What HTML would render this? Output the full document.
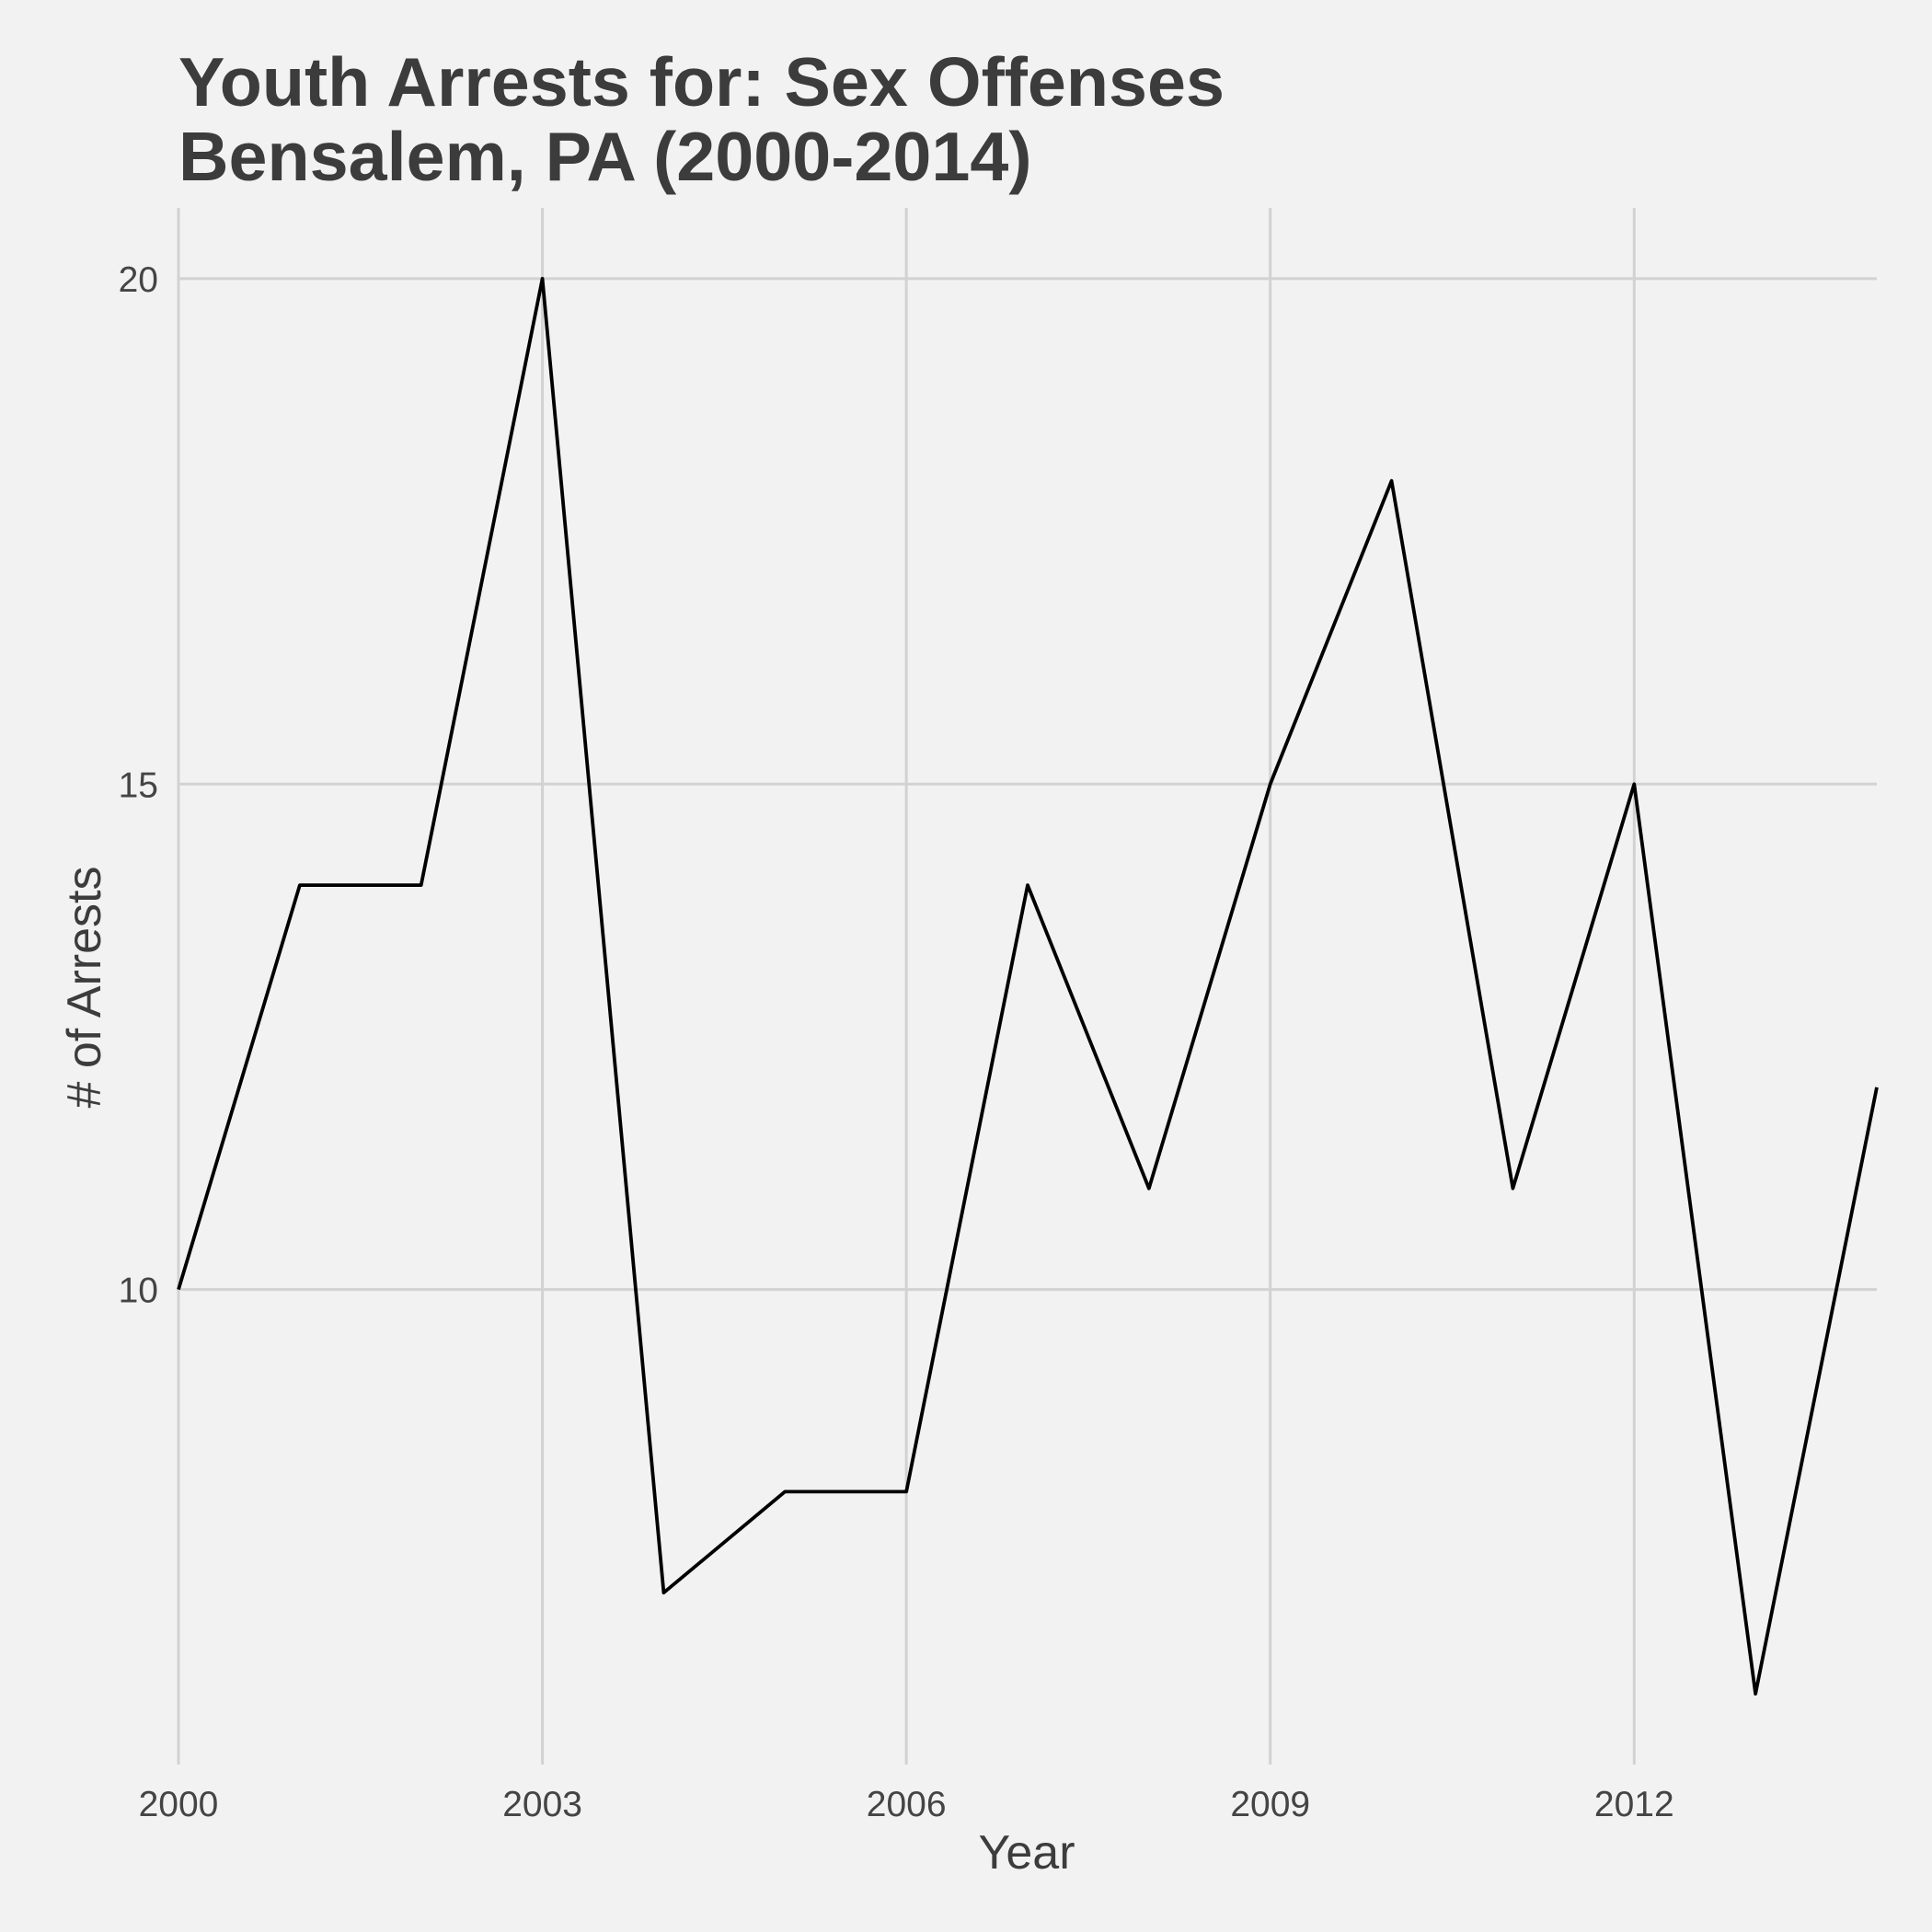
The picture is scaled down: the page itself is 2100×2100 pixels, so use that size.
<!DOCTYPE html>
<html><head><meta charset="utf-8"><style>
html,body{margin:0;padding:0;background:#f2f2f2;}
svg{display:block;font-family:"Liberation Sans",Arial,sans-serif;}
</style></head><body>
<svg id="chart" width="2100" height="2100" viewBox="0 0 2100 2100">
<rect width="2100" height="2100" fill="#f2f2f2"/>
<g id="grid"></g>
<g id="series"></g>
<g id="labels"></g>
<text x="194" y="115" font-size="75.5" font-weight="bold" fill="#3c3c3c">Youth Arrests for: Sex Offenses</text>
<text x="194" y="196" font-size="75.5" font-weight="bold" fill="#3c3c3c">Bensalem, PA (2000-2014)</text>
<text x="1116" y="2031" font-size="52" fill="#3c3c3c" text-anchor="middle">Year</text>
<text transform="translate(109,1073) rotate(-90)" font-size="52" fill="#3c3c3c" text-anchor="middle"># of Arrests</text>
</svg>
<script>
const years = [2000,2001,2002,2003,2004,2005,2006,2007,2008,2009,2010,2011,2012,2013,2014];
const arrests = [10,14,14,20,7,8,8,14,11,15,18,11,15,6,12];
const xTicks = [2000,2003,2006,2009,2012];
const yTicks = [10,15,20];

const NS = "http://www.w3.org/2000/svg";
const x0 = 194, x1 = 2040, yTop = 226, yBot = 1918;
const xMin = 2000, xMax = 2014, yMin = 5.3, yMax = 20.7;
function xs(v){ return x0 + (v - xMin) / (xMax - xMin) * (x1 - x0); }
function ys(v){ return yBot - (v - yMin) / (yMax - yMin) * (yBot - yTop); }

const grid = document.getElementById('grid');
const labels = document.getElementById('labels');
xTicks.forEach(t => {
  const l = document.createElementNS(NS, 'line');
  l.setAttribute('x1', xs(t)); l.setAttribute('x2', xs(t));
  l.setAttribute('y1', yTop); l.setAttribute('y2', yBot);
  l.setAttribute('stroke', '#d2d2d2'); l.setAttribute('stroke-width', '3');
  
  
  grid.appendChild(l);
  const tx = document.createElementNS(NS, 'text');
  tx.setAttribute('x', xs(t)); tx.setAttribute('y', 1974);
  tx.setAttribute('font-size', '39'); tx.setAttribute('fill', '#444');
  tx.setAttribute('text-anchor', 'middle');
  tx.textContent = t;
  
  
  labels.appendChild(tx);
});
yTicks.forEach(t => {
  const l = document.createElementNS(NS, 'line');
  l.setAttribute('x1', x0); l.setAttribute('x2', x1);
  l.setAttribute('y1', ys(t)); l.setAttribute('y2', ys(t));
  l.setAttribute('stroke', '#d2d2d2'); l.setAttribute('stroke-width', '3');
  
  
  grid.appendChild(l);
  const tx = document.createElementNS(NS, 'text');
  tx.setAttribute('x', 172); tx.setAttribute('y', ys(t) + 14);
  tx.setAttribute('font-size', '39'); tx.setAttribute('fill', '#444');
  tx.setAttribute('text-anchor', 'end');
  tx.textContent = t;
  
  
  labels.appendChild(tx);
});
const p = document.createElementNS(NS, 'polyline');
p.setAttribute('points', years.map((y, i) => xs(y) + ',' + ys(arrests[i])).join(' '));
p.setAttribute('fill', 'none'); p.setAttribute('stroke', '#000');
p.setAttribute('stroke-width', '3.8'); p.setAttribute('stroke-linejoin', 'round');


document.getElementById('series').appendChild(p);
</script>
</body></html>
